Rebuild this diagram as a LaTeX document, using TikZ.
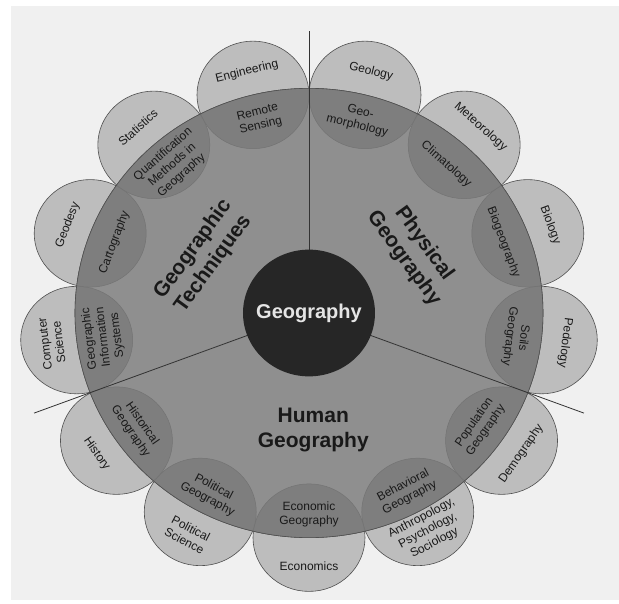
\documentclass[tikz,border=0pt]{standalone}
\usepackage{fontspec}
\setmainfont{Liberation Sans}
\usepackage{tikz}
\usepackage{xcolor}
\definecolor{paper}{HTML}{F0F0F0}
\definecolor{sidegray}{HTML}{BDBDBD}
\definecolor{maingray}{HTML}{8F8F8F}
\definecolor{overgray}{HTML}{7E7E7E}
\definecolor{coregray}{HTML}{262626}
\definecolor{rimgray}{HTML}{505050}
\tikzset{
  side disc/.style = {fill=sidegray, draw=rimgray, line width=0.6pt},
  main disc/.style = {fill=maingray, draw=rimgray, line width=0.6pt},
  over disc/.style = {fill=overgray, draw=rimgray!80, line width=0.5pt},
  divider/.style = {draw=black!80, line width=0.8pt},
  field/.style = {font=\fontsize{12}{14}\selectfont, align=center, text=black!90, inner sep=0pt},
  branch/.style = {font=\fontsize{21}{25}\selectfont\bfseries, align=center, text=black!90, inner sep=0pt}
}

\begin{document}
\begin{tikzpicture}[x=1pt, y=0.96pt]

  \useasboundingbox (-309pt,-290pt) rectangle (310pt,313pt);
  \fill[white] (-309pt,-290pt) rectangle (310pt,313pt);
  \fill[paper] (-298pt,-287pt) rectangle (310pt,307pt);

  % centres of the neighbouring disciplines, on the rim
  \coordinate (o) at (0,0);
  \coordinate (eng) at (103.85:234);
  \coordinate (geol) at (76.15:234);
  \coordinate (met) at (48.46:234);
  \coordinate (bio) at (20.77:234);
  \coordinate (ped) at (-6.92:234);
  \coordinate (dem) at (-34.62:234);
  \coordinate (anth) at (-62.31:234);
  \coordinate (econ) at (-90:234);
  \coordinate (pol) at (-117.69:234);
  \coordinate (hist) at (-145.38:234);
  \coordinate (comp) at (186.92:234);
  \coordinate (gdsy) at (159.23:234);
  \coordinate (stat) at (131.54:234);

  \draw[side disc] (eng) circle (56);
  \draw[side disc] (geol) circle (56);
  \draw[side disc] (met) circle (56);
  \draw[side disc] (bio) circle (56);
  \draw[side disc] (ped) circle (56);
  \draw[side disc] (dem) circle (56);
  \draw[side disc] (anth) circle (56);
  \draw[side disc] (econ) circle (56);
  \draw[side disc] (pol) circle (56);
  \draw[side disc] (hist) circle (56);
  \draw[side disc] (comp) circle (56);
  \draw[side disc] (gdsy) circle (56);
  \draw[side disc] (stat) circle (56);

  \draw[main disc] (o) circle (234);

  % parts of the discs inside geography
  \begin{scope}
    \clip (o) circle (234);
    \draw[over disc] (eng) circle (56);
    \draw[over disc] (geol) circle (56);
    \draw[over disc] (met) circle (56);
    \draw[over disc] (bio) circle (56);
    \draw[over disc] (ped) circle (56);
    \draw[over disc] (dem) circle (56);
    \draw[over disc] (anth) circle (56);
    \draw[over disc] (econ) circle (56);
    \draw[over disc] (pol) circle (56);
    \draw[over disc] (hist) circle (56);
    \draw[over disc] (comp) circle (56);
    \draw[over disc] (gdsy) circle (56);
    \draw[over disc] (stat) circle (56);
  \end{scope}
  \draw[draw=rimgray, line width=0.6pt] (o) circle (234);

  % the three branches
  \coordinate (cut1) at (90:294);
  \coordinate (cut2) at (200.77:294);
  \coordinate (cut3) at (-20.77:294);
  \draw[divider] (o) -- (cut1);
  \draw[divider] (o) -- (cut2);
  \draw[divider] (o) -- (cut3);

  \fill[coregray] (o) circle (66);
  \node[branch, font=\fontsize{20}{24}\selectfont\bfseries, text=white!90!black] (core) at (o) {Geography};

  \node[branch, rotate=54] (tech) at (151:121) {Geographic\\Techniques};
  \node[branch, rotate=-54] (phys) at (31.5:123) {Physical\\Geography};
  \node[branch] (human) at (-88:122) {Human\\Geography};

  % outer labels
  \node[field, rotate=13.85] (engineering) at (103.85:259) {Engineering};
  \node[field, rotate=-13.85] (geology) at (76.15:259) {Geology};
  \node[field, rotate=-41.54] (meteorology) at (48.46:259) {Meteorology};
  \node[field, rotate=-69.23] (biology) at (20.77:258) {Biology};
  \node[field, rotate=-96.92] (pedology) at (-6.92:258) {Pedology};
  \node[field, rotate=55.38] (demography) at (-34.62:258) {Demography};
  \node[field, rotate=27.69] (anthropology) at (-62.31:256) {Anthropology,\\Psychology,\\Sociology};
  \node[field] (economics) at (-90:264) {Economics};
  \node[field, rotate=-27.69] (polsci) at (-117.69:261) {Political\\Science};
  \node[field, rotate=-55.38] (history) at (-145.38:258) {History};
  \node[field, rotate=96.92] (compsci) at (186.92:259) {Computer\\Science};
  \node[field, rotate=69.23] (geodesy) at (159.23:258) {Geodesy};
  \node[field, rotate=41.54] (statistics) at (131.54:258) {Statistics};

  % inner labels
  \node[field, rotate=13.85] (remote) at (103.85:208) {Remote\\Sensing};
  \node[field, rotate=-13.85] (geomorph) at (76.15:208) {Geo-\\morphology};
  \node[field, rotate=-41.54] (climat) at (48.46:207) {Climatology};
  \node[field, rotate=-69.23] (biogeo) at (20.77:208) {Biogeography};
  \node[field, rotate=-96.92] (soils) at (-6.92:209) {Soils\\Geography};
  \node[field, rotate=55.38] (population) at (-34.62:208) {Population\\Geography};
  \node[field, rotate=27.69] (behavioral) at (-62.31:210) {Behavioral\\Geography};
  \node[field] (economic) at (-90:210) {Economic\\Geography};
  \node[field, rotate=-27.69] (political) at (-117.69:212) {Political\\Geography};
  \node[field, rotate=-55.38] (historical) at (-145.38:210) {Historical\\Geography};
  \node[field, rotate=96.92] (gis) at (186.92:207) {Geographic\\Information\\Systems};
  \node[field, rotate=69.23] (carto) at (159.23:208) {Cartography};
  \node[field, rotate=41.54] (quant) at (131.54:206) {Quantification\\Methods in\\Geography};

\end{tikzpicture}
\end{document}
